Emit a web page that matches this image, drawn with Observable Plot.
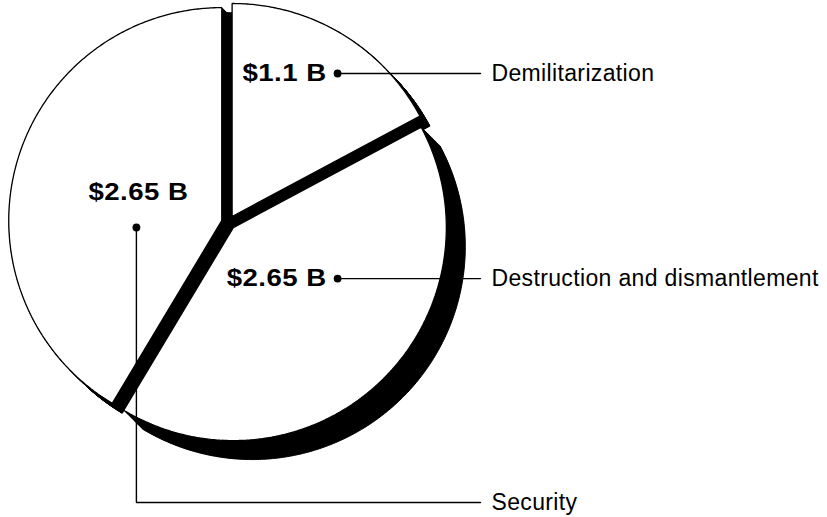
<!DOCTYPE html>
<html>
<head>
<meta charset="utf-8">
<script src="https://cdn.jsdelivr.net/npm/d3@7"></script>
<script src="https://cdn.jsdelivr.net/npm/@observablehq/plot@0.6"></script>
<style>
  html, body { margin: 0; padding: 0; background: #fff; }
  #chart { width: 827px; height: 517px; }
</style>
</head>
<body>
<div id="chart"></div>
<script>
// ---- data ----
const categories = ["Demilitarization", "Destruction and dismantlement", "Security"];
const values = [1.1, 2.65, 2.65];          // billions of dollars
const valueLabels = ["$1.1 B", "$2.65 B", "$2.65 B"];

// ---- layout (pixels) ----
const W = 827, H = 517;
const R = 213, CX = 228, CY = 222;          // pie radius and centre
const explodePx = 7;                        // slice separation
const shadowPx = [10, 19, 10];              // extruded-shadow depth per slice
const sweepSteps = 24;
// annotation anchors: polar angle (deg, clockwise from 12 o'clock) and radius (pie units)
const anchor = [
  {deg: 36.2, r: 0.867},
  {deg: 117.2, r: 0.576},
  {deg: 266.9, r: 0.433}
];
const lineEndX = (480 - CX) / R, labelX = (491 - CX) / R, bottomY = (CY - 502) / R;

// ---- geometry from data ----
const arcs = d3.pie().sort(null).value(d => d)(values);
function polygon(key, a, ox, oy, rad = 1) {
  const n = Math.max(2, Math.ceil((a.endAngle - a.startAngle) / (Math.PI / 360)));
  const pts = [{key, x: ox, y: oy}];
  for (let k = 0; k <= n; k++) {
    const t = a.startAngle + (a.endAngle - a.startAngle) * k / n;
    pts.push({key, x: ox + rad * Math.sin(t), y: oy + rad * Math.cos(t)});
  }
  pts.push({key, x: ox, y: oy});
  return pts;
}
const slices = [], shadows = [], base = [];
arcs.forEach((a, i) => {
  const mid = (a.startAngle + a.endAngle) / 2;
  const ex = Math.sin(mid) * explodePx / R, ey = Math.cos(mid) * explodePx / R;
  slices.push(...polygon("s" + i, a, ex, ey));
  base.push(...polygon("b" + i, a, 0, 0, 0.985));
  for (let k = 1; k <= sweepSteps; k++) {
    const d = shadowPx[i] * k / sweepSteps / R;
    shadows.push(...polygon("h" + i + "_" + k, a, ex + d, ey - d));
  }
});

const dots = categories.map((c, i) => {
  const t = anchor[i].deg * Math.PI / 180;
  return {i, category: c, label: valueLabels[i],
          x: anchor[i].r * Math.sin(t), y: anchor[i].r * Math.cos(t)};
});
const leaders = [];
dots.forEach(d => {
  leaders.push({key: d.i, x: d.x, y: d.y});
  if (d.i === 2) leaders.push({key: d.i, x: d.x, y: bottomY});
  leaders.push({key: d.i, x: lineEndX, y: d.i === 2 ? bottomY : d.y});
});
const catLabels = dots.map(d => ({text: d.category, x: labelX, y: d.i === 2 ? bottomY : d.y}));

const chart = Plot.plot({
  width: W, height: H,
  marginTop: 0, marginRight: 0, marginBottom: 0, marginLeft: 0,
  x: {domain: [-CX / R, (W - CX) / R], range: [0, W], axis: null},
  y: {domain: [-(H - CY) / R, CY / R], range: [H, 0], axis: null},
  style: {background: "white", fontFamily: "'Liberation Sans', Arial, Helvetica, sans-serif", color: "black"},
  marks: [
    Plot.line(base, {x: "x", y: "y", z: "key", fill: "black", stroke: "black", strokeWidth: 1, curve: "linear"}),
    Plot.line(shadows, {x: "x", y: "y", z: "key", fill: "black", stroke: "black", strokeWidth: 1, curve: "linear"}),
    Plot.line(slices, {x: "x", y: "y", z: "key", fill: "white", stroke: "black", strokeWidth: 1.3,
                       strokeLinejoin: "miter", curve: "linear"}),
    Plot.line(leaders, {x: "x", y: "y", z: "key", stroke: "black", strokeWidth: 1.4,
                        strokeLinejoin: "miter", curve: "linear"}),
    Plot.dot(dots, {x: "x", y: "y", r: 3.9, fill: "black", stroke: "none"}),
    Plot.text(dots.filter(d => d.i !== 2), {
      x: "x", y: "y", text: "label", textAnchor: "end", dx: -11,
      fontSize: 24, fontWeight: "bold", fill: "black"}),
    Plot.text(dots.filter(d => d.i === 2), {
      x: "x", y: "y", text: "label", textAnchor: "middle", dx: 2, dy: -35,
      fontSize: 24, fontWeight: "bold", fill: "black"}),
    Plot.text(catLabels, {x: "x", y: "y", text: "text", textAnchor: "start",
      fontSize: 23, fill: "black"})
  ]
});
// the reference's bold figures are set slightly wide: stretch them horizontally about their anchor
d3.select(chart).selectAll("g[font-weight='bold'] text").each(function() {
  const el = d3.select(this);
  const t = el.attr("transform") || "";
  el.attr("transform", t + " scale(1.15,1)").style("letter-spacing", "0.4px");
});
d3.select(chart).selectAll("g[font-size='23'] text").style("letter-spacing", "0.35px");
document.getElementById("chart").appendChild(chart);
</script>
</body>
</html>
